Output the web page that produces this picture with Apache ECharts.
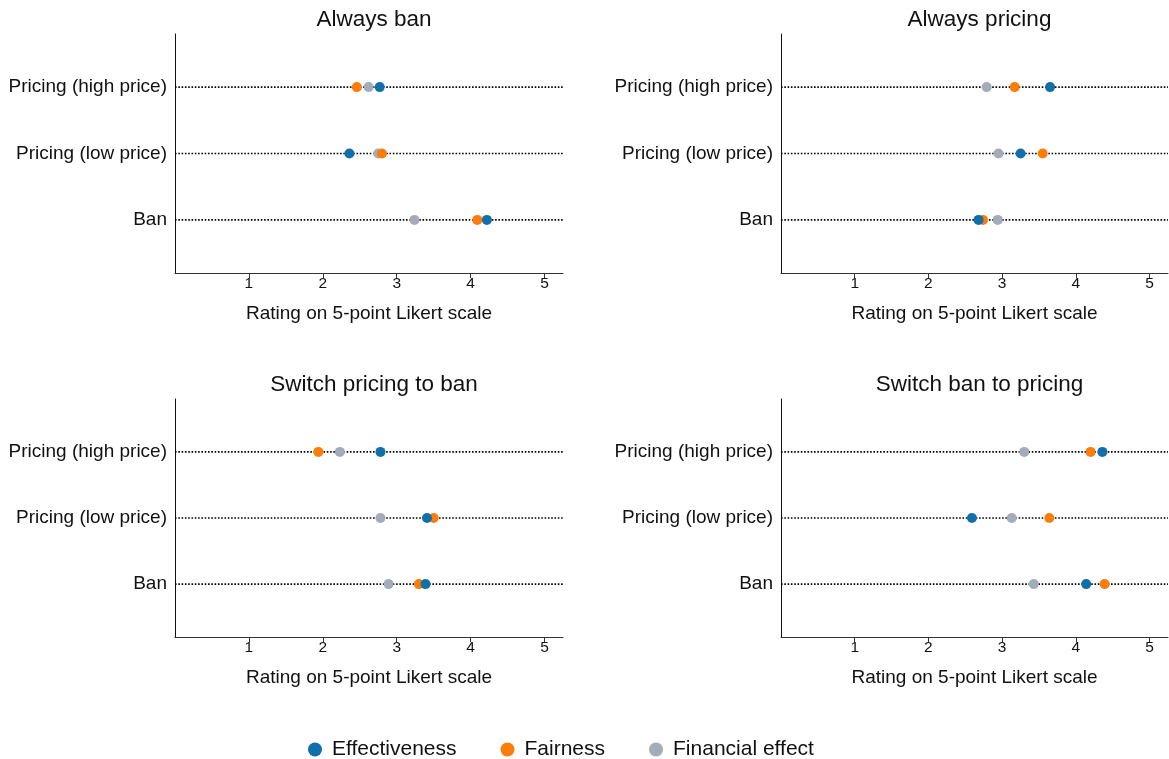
<!DOCTYPE html>
<html>
<head>
<meta charset="utf-8">
<title>Ratings of policy options</title>
<script src="https://cdn.jsdelivr.net/npm/echarts@6/dist/echarts.min.js"></script>
<style>
  html, body { margin: 0; padding: 0; background: #fff; }
  #chart { width: 1169px; height: 759px; }
</style>
</head>
<body>
<div id="chart"></div>
<script>
// Rows on each panel, bottom to top
const categories = ['Ban', 'Pricing (low price)', 'Pricing (high price)'];
const panelTitles = ['Always ban', 'Always pricing', 'Switch pricing to ban', 'Switch ban to pricing'];
const xTicks = [1, 2, 3, 4, 5];
const seriesNames = ['Effectiveness', 'Fairness', 'Financial effect'];

// Mean ratings per panel, in the order of `categories`
const effectiveness = [
  [4.22, 2.36, 2.77],
  [2.68, 3.25, 3.65],
  [3.39, 3.41, 2.78],
  [4.14, 2.59, 4.36]
];
const fairness = [
  [4.09, 2.80, 2.46],
  [2.74, 3.55, 3.17],
  [3.30, 3.50, 1.94],
  [4.39, 3.64, 4.20]
];
const financialEffect = [
  [3.24, 2.75, 2.62],
  [2.94, 2.95, 2.79],
  [2.89, 2.78, 2.23],
  [3.43, 3.13, 3.30]
];

const FONT = "'Liberation Sans', Arial, Helvetica, sans-serif";
const colors = { 'Effectiveness': '#1170aa', 'Fairness': '#fc7d0b', 'Financial effect': '#a3acb9' };
const X_MIN = 0, X_MAX = 5.25;

const gridBoxes = [
  { left: 175, top: 34, width: 388, height: 239 },
  { left: 781, top: 34, width: 387, height: 239 },
  { left: 175, top: 399, width: 388, height: 238 },
  { left: 781, top: 399, width: 387, height: 238 }
];

const grids = [], xAxes = [], yAxes = [], series = [], titles = [];

gridBoxes.forEach((g, i) => {
  grids.push(Object.assign({ outerBoundsMode: 'none', containLabel: false }, g));
  titles.push({
    text: panelTitles[i],
    left: g.left + g.width / 2,
    top: g.top - 31,
    textAlign: 'center',
    textStyle: { fontFamily: FONT, fontSize: 22.5, fontWeight: 'normal', color: '#111' }
  });
  xAxes.push({
    type: 'value', gridIndex: i, min: X_MIN, max: X_MAX,
    name: 'Rating on 5-point Likert scale', nameLocation: 'middle', nameGap: 31,
    nameTextStyle: { fontFamily: FONT, fontSize: 19, color: '#111' },
    axisLine: { show: true, lineStyle: { color: '#333', width: 1 } },
    axisTick: { show: true, length: 5, customValues: xTicks, lineStyle: { color: '#333' } },
    axisLabel: { customValues: xTicks, margin: 3, fontFamily: FONT, fontSize: 15.5, color: '#111' },
    splitLine: { show: false }
  });
  yAxes.push({
    type: 'value', gridIndex: i, min: 0.2, max: 3.8,
    axisLine: { show: true, onZero: false, lineStyle: { color: '#111', width: 1 } },
    axisTick: { show: false },
    axisLabel: {
      customValues: [1, 2, 3], margin: 8,
      fontFamily: FONT, fontSize: 19, color: '#111',
      formatter: v => categories[Math.round(v) - 1]
    },
    splitLine: { show: false }
  });
  // dotted guide line across the panel for every row
  categories.forEach((c, k) => {
    series.push({
      type: 'line', xAxisIndex: i, yAxisIndex: i, silent: true, z: 1,
      symbol: 'none', showSymbol: false,
      lineStyle: { color: '#000', width: 1.6, type: [1.6, 1.7] },
      emphasis: { disabled: true },
      data: [[X_MIN, k + 1], [X_MAX, k + 1]]
    });
  });
  // gray first, blue last so blue sits on top where dots overlap
  [['Financial effect', financialEffect], ['Fairness', fairness], ['Effectiveness', effectiveness]]
    .forEach(([name, arr], s) => {
      series.push({
        name, type: 'scatter', xAxisIndex: i, yAxisIndex: i, z: 3 + s,
        symbol: 'circle', symbolSize: 10,
        itemStyle: { color: colors[name], opacity: 1 },
        data: arr[i].map((v, k) => [v, k + 1])
      });
    });
});

const chart = echarts.init(document.getElementById('chart'), null, { renderer: 'canvas' });
chart.setOption({
  animation: false,
  backgroundColor: '#fff',
  title: titles,
  grid: grids,
  xAxis: xAxes,
  yAxis: yAxes,
  legend: {
    data: seriesNames,
    left: 303, top: 734,
    icon: 'circle', itemWidth: 14, itemHeight: 14, itemGap: 44,
    textStyle: { fontFamily: FONT, fontSize: 21, color: '#111', padding: [0, 0, 0, 5] }
  },
  color: seriesNames.map(n => colors[n]),
  series
});
</script>
</body>
</html>
